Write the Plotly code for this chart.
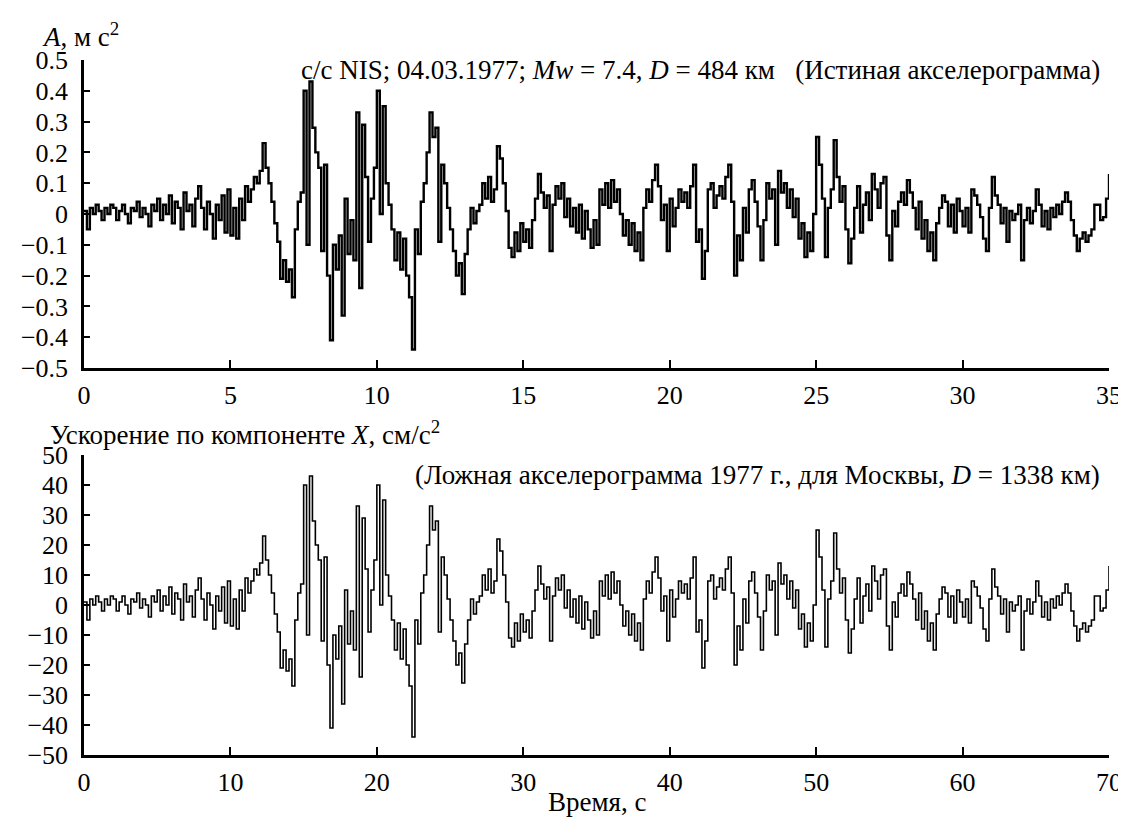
import plotly.graph_objects as go

# Top panel: true accelerogram, A (m/s^2), sampled every 0.1 s from 0 to 35 s
acc_true = [
    0.01, -0.05, 0.02, 0.00, 0.03, 0.01, -0.02, 0.02, 0.00, 0.03,
    0.02, -0.02, 0.01, 0.03, 0.00, -0.03, 0.02, 0.01, 0.04, -0.01,
    0.02, 0.00, -0.04, 0.03, 0.01, 0.05, -0.02, 0.03, 0.00, 0.06,
    -0.03, 0.04, 0.02, -0.05, 0.07, 0.01, 0.03, -0.04, 0.05, 0.09,
    0.02, -0.05, 0.04, 0.00, -0.08, 0.03, -0.02, 0.06, -0.06, 0.08,
    -0.07, 0.02, -0.08, 0.05, -0.02, 0.09, 0.04, 0.08, 0.12, 0.10,
    0.14, 0.23, 0.15, 0.10, 0.04, -0.03, -0.09, -0.21, -0.15, -0.22,
    -0.18, -0.27, -0.05, 0.04, 0.07, 0.40, -0.10, 0.43, 0.28, 0.20,
    0.15, -0.12, 0.16, -0.20, -0.41, -0.10, -0.18, -0.07, -0.33, 0.05,
    -0.13, -0.02, -0.15, 0.33, -0.24, 0.29, 0.12, -0.09, 0.05, 0.15,
    0.40, 0.00, 0.35, 0.10, 0.03, -0.05, -0.15, -0.06, -0.18, -0.08,
    -0.20, -0.27, -0.44, -0.05, -0.13, 0.04, 0.10, 0.20, 0.33, 0.25,
    0.28, -0.09, 0.16, 0.10, 0.02, -0.05, -0.12, -0.20, -0.16, -0.26,
    -0.13, -0.05, 0.02, -0.03, 0.01, 0.03, 0.10, 0.05, 0.12, 0.04,
    0.08, 0.22, 0.18, 0.10, 0.01, -0.11, -0.14, -0.06, -0.12, -0.03,
    -0.09, -0.05, -0.11, -0.02, 0.05, 0.13, 0.07, 0.02, 0.06, -0.12,
    0.03, 0.09, 0.05, 0.10, -0.01, 0.05, -0.04, 0.02, -0.06, 0.03,
    -0.08, 0.01, -0.05, -0.11, -0.02, -0.10, 0.08, 0.03, 0.10, 0.02,
    0.11, 0.04, 0.08, 0.00, -0.07, -0.02, -0.10, -0.03, -0.12, -0.06,
    -0.15, 0.02, 0.08, 0.04, 0.11, 0.16, 0.09, -0.02, 0.03, -0.12,
    0.05, -0.04, 0.02, 0.08, 0.04, 0.07, 0.02, 0.09, 0.16, -0.09,
    -0.05, -0.21, -0.12, 0.08, 0.10, 0.02, 0.06, 0.09, 0.05, 0.12,
    0.16, 0.04, -0.20, -0.07, -0.15, 0.02, -0.06, 0.08, 0.11, 0.04,
    -0.04, -0.15, -0.02, 0.10, 0.05, 0.08, -0.10, 0.14, 0.07, 0.10,
    0.02, 0.08, -0.01, 0.05, -0.08, -0.03, -0.14, -0.06, -0.12, 0.00,
    0.25, 0.16, 0.05, -0.14, 0.02, 0.08, 0.24, 0.12, 0.04, 0.09,
    -0.05, -0.16, -0.08, 0.02, 0.09, -0.06, 0.03, 0.07, -0.02, 0.13,
    0.08, 0.02, 0.10, 0.12, -0.07, -0.15, 0.01, -0.04, 0.04, 0.07,
    0.03, 0.11, 0.07, 0.02, -0.05, 0.04, -0.08, -0.02, -0.12, -0.06,
    -0.15, -0.03, 0.02, 0.06, 0.04, -0.04, 0.03, -0.06, 0.05, 0.01,
    -0.04, 0.02, -0.06, 0.08, 0.06, 0.03, -0.01, -0.08, -0.12, 0.02,
    0.12, 0.06, 0.03, -0.03, 0.02, -0.09, 0.01, -0.02, 0.00, 0.03,
    -0.15, -0.02, 0.02, -0.03, 0.01, 0.08, 0.03, -0.04, 0.01, -0.05,
    0.02, -0.01, 0.03, 0.00, 0.04, 0.07, 0.04, -0.02, -0.07, -0.12,
    -0.08, -0.06, -0.09, -0.07, -0.05, 0.03, 0.03, -0.02, -0.01, 0.05,
    0.13,
]

# Bottom panel: false accelerogram, X component (cm/s^2), sampled every 0.2 s from 0 to 70 s
acc_false = [
    1, -5, 2, 0, 3, 1, -2, 2, 0, 3,
    2, -2, 1, 3, 0, -3, 2, 1, 4, -1,
    2, 0, -4, 3, 1, 5, -2, 3, 0, 6,
    -3, 4, 2, -5, 7, 1, 3, -4, 5, 9,
    2, -5, 4, 0, -8, 3, -2, 6, -6, 8,
    -7, 2, -8, 5, -2, 9, 4, 8, 12, 10,
    14, 23, 15, 10, 4, -3, -9, -21, -15, -22,
    -18, -27, -5, 4, 7, 40, -10, 43, 28, 20,
    15, -12, 16, -20, -41, -10, -18, -7, -33, 5,
    -13, -2, -15, 33, -24, 29, 12, -9, 5, 15,
    40, 0, 35, 10, 3, -5, -15, -6, -18, -8,
    -20, -27, -44, -5, -13, 4, 10, 20, 33, 25,
    28, -9, 16, 10, 2, -5, -12, -20, -16, -26,
    -13, -5, 2, -3, 1, 3, 10, 5, 12, 4,
    8, 22, 18, 10, 1, -11, -14, -6, -12, -3,
    -9, -5, -11, -2, 5, 13, 7, 2, 6, -12,
    3, 9, 5, 10, -1, 5, -4, 2, -6, 3,
    -8, 1, -5, -11, -2, -10, 8, 3, 10, 2,
    11, 4, 8, 0, -7, -2, -10, -3, -12, -6,
    -15, 2, 8, 4, 11, 16, 9, -2, 3, -12,
    5, -4, 2, 8, 4, 7, 2, 9, 16, -9,
    -5, -21, -12, 8, 10, 2, 6, 9, 5, 12,
    16, 4, -20, -7, -15, 2, -6, 8, 11, 4,
    -4, -15, -2, 10, 5, 8, -10, 14, 7, 10,
    2, 8, -1, 5, -8, -3, -14, -6, -12, 0,
    25, 16, 5, -14, 2, 8, 24, 12, 4, 9,
    -5, -16, -8, 2, 9, -6, 3, 7, -2, 13,
    8, 2, 10, 12, -7, -15, 1, -4, 4, 7,
    3, 11, 7, 2, -5, 4, -8, -2, -12, -6,
    -15, -3, 2, 6, 4, -4, 3, -6, 5, 1,
    -4, 2, -6, 8, 6, 3, -1, -8, -12, 2,
    12, 6, 3, -3, 2, -9, 1, -2, 0, 3,
    -15, -2, 2, -3, 1, 8, 3, -4, 1, -5,
    2, -1, 3, 0, 4, 7, 4, -2, -7, -12,
    -8, -6, -9, -7, -5, 3, 3, -2, -1, 5,
    13,
]

top_xticks = [0, 5, 10, 15, 20, 25, 30, 35]
top_yticks = [0.5, 0.4, 0.3, 0.2, 0.1, 0, -0.1, -0.2, -0.3, -0.4, -0.5]
top_ylabels = ["0.5", "0.4", "0.3", "0.2", "0.1", "0", "\u22120.1", "\u22120.2",
               "\u22120.3", "\u22120.4", "\u22120.5"]
bot_xticks = [0, 10, 20, 30, 40, 50, 60, 70]
bot_yticks = [50, 40, 30, 20, 10, 0, -10, -20, -30, -40, -50]
bot_ylabels = ["50", "40", "30", "20", "10", "0", "\u221210", "\u221220",
               "\u221230", "\u221240", "\u221250"]

t_top = [round(i * 0.1, 1) for i in range(len(acc_true))]
t_bot = [round(i * 0.2, 1) for i in range(len(acc_false))]

FONT = "Liberation Serif"
FS_TICK = 26
FS = 27

fig = go.Figure()
fig.add_trace(go.Scatter(x=t_top, y=acc_true, mode="lines", line_shape="hv",
                         line=dict(color="black", width=2.4), xaxis="x", yaxis="y",
                         showlegend=False, hoverinfo="skip"))
fig.add_trace(go.Scatter(x=t_bot, y=acc_false, mode="lines", line_shape="hv",
                         line=dict(color="black", width=1.6), xaxis="x2", yaxis="y2",
                         showlegend=False, hoverinfo="skip"))

axis_common = dict(showgrid=False, zeroline=False, showline=True, linecolor="black",
                   linewidth=2.5, ticks="inside", tickcolor="black", tickwidth=2,
                   tickfont=dict(family=FONT, size=FS_TICK, color="black"), mirror=False)

fig.update_layout(
    width=1126, height=820,
    paper_bgcolor="white", plot_bgcolor="white",
    margin=dict(l=76, r=16, t=52, b=73),
    font=dict(family=FONT, size=FS, color="black"),
    xaxis=dict(domain=[0, 1], range=[0, 35], tickvals=top_xticks, ticklen=8,
               anchor="y", ticklabelstandoff=2, **axis_common),
    yaxis=dict(domain=[0.5568, 1.0], range=[-0.5, 0.5], tickvals=top_yticks,
               ticktext=top_ylabels, ticklen=6, anchor="x", ticklabelstandoff=8,
               **axis_common),
    xaxis2=dict(domain=[0, 1], range=[0, 70], tickvals=bot_xticks, ticklen=8,
                anchor="y2", ticklabelstandoff=2, **axis_common),
    yaxis2=dict(domain=[0, 0.4317], range=[-50, 50], tickvals=bot_yticks,
                ticktext=bot_ylabels, ticklen=6, anchor="x2", ticklabelstandoff=8,
                **axis_common),
)

ann_font = dict(family=FONT, size=FS, color="black")
fig.add_annotation(xref="paper", yref="paper", x=-0.043, y=1.0, yshift=25,
                   xanchor="left", yanchor="middle", showarrow=False,
                   text="<i>A</i>, м с<sup>2</sup>", font=ann_font)
fig.add_annotation(xref="paper", yref="paper", x=0.993, y=1.0, yshift=-10,
                   xanchor="right", yanchor="middle", showarrow=False,
                   text="с/с NIS; 04.03.1977; <i>Mw</i> = 7.4, <i>D</i> = 484 км   (Истиная акселерограмма)",
                   font=ann_font)
fig.add_annotation(xref="paper", yref="paper", x=-0.035, y=0.4317, yshift=22,
                   xanchor="left", yanchor="middle", showarrow=False,
                   text="Ускорение по компоненте <i>X</i>, см/с<sup>2</sup>", font=ann_font)
fig.add_annotation(xref="paper", yref="paper", x=0.993, y=0.4317, yshift=-20,
                   xanchor="right", yanchor="middle", showarrow=False,
                   text="(Ложная акселерограмма 1977 г., для Москвы, <i>D</i> = 1338 км)",
                   font=ann_font)
fig.add_annotation(xref="paper", yref="paper", x=0.5, y=0, yshift=-47,
                   xanchor="center", yanchor="middle", showarrow=False,
                   text="Время, с", font=ann_font)

fig.write_html("out.html")
